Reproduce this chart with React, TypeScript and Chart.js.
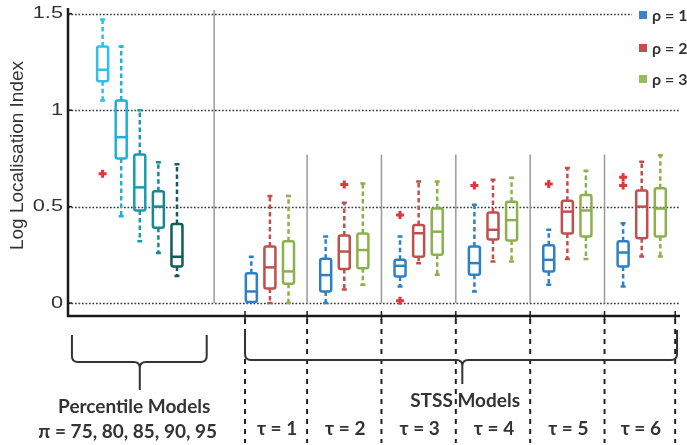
import React, { useEffect, useRef } from 'react';
import { Chart, registerables } from 'chart.js';

Chart.register(...registerables);

// ---------- DATA ----------
// Each box: [lowerWhisker, q1, median, q3, upperWhisker]
const percentileValues = ['75', '80', '85', '90', '95'];
const percentileBoxes: number[][] = [
  [1.05, 1.15, 1.21, 1.33, 1.47],
  [0.45, 0.75, 0.86, 1.05, 1.33],
  [0.32, 0.48, 0.6, 0.77, 1.0],
  [0.26, 0.39, 0.5, 0.58, 0.73],
  [0.14, 0.19, 0.24, 0.41, 0.72],
];
const percentileOutliers: number[][] = [[0.67], [], [], [], []];

const tauLabels = ['τ = 1', 'τ = 2', 'τ = 3', 'τ = 4', 'τ = 5', 'τ = 6'];
const rhoLabels = ['ρ = 1', 'ρ = 2', 'ρ = 3'];

const rho1Boxes: number[][] = [
  [0, 0.005, 0.06, 0.155, 0.24],
  [0, 0.06, 0.145, 0.23, 0.345],
  [0.086, 0.138, 0.193, 0.225, 0.345],
  [0.06, 0.147, 0.207, 0.293, 0.51],
  [0.095, 0.164, 0.224, 0.3, 0.38],
  [0.086, 0.19, 0.262, 0.32, 0.414],
];
const rho2Boxes: number[][] = [
  [0, 0.075, 0.185, 0.293, 0.555],
  [0.07, 0.176, 0.267, 0.35, 0.52],
  [0.207, 0.24, 0.362, 0.405, 0.63],
  [0.215, 0.33, 0.38, 0.47, 0.64],
  [0.228, 0.36, 0.474, 0.53, 0.7],
  [0.241, 0.336, 0.5, 0.583, 0.733],
];
const rho3Boxes: number[][] = [
  [0, 0.1, 0.164, 0.32, 0.555],
  [0.095, 0.18, 0.275, 0.36, 0.62],
  [0.147, 0.25, 0.37, 0.49, 0.63],
  [0.215, 0.324, 0.43, 0.525, 0.65],
  [0.228, 0.345, 0.48, 0.56, 0.686],
  [0.241, 0.345, 0.49, 0.595, 0.767],
];
const rho1Outliers: number[][] = [[], [], [0.457, 0.012], [0.61], [0.617], [0.652, 0.609]];
const rho2Outliers: number[][] = [[], [0.615], [], [], [], []];
const rho3Outliers: number[][] = [[], [], [], [], [], []];

const yTicks = [0, 0.5, 1, 1.5];
const yTickLabels = ['0', '0.5', '1', '1.5'];

// ---------- LAYOUT / STYLE ----------
const W = 687;
const H = 445;
const X_MIN = -1.862;
const X_MAX = 31.06;
const Y_MIN = -0.062;
const Y_MAX = 1.53;
const pctSlot = (i: number) => i;
const stssSlot = (t: number, r: number) => 8 + 4 * t + r;
const mainSeparator = 6;
const groupSeparators = [11, 15, 19, 23, 27];
const tauBounds = [7.66, 11, 15, 19, 23, 27, 30.8];

const pctColors = ['#33bfe5', '#22afd3', '#1b9bb3', '#178892', '#105c5f'];
const rhoColors = ['#2f80c3', '#c0504d', '#8db04e'];
const legendColors = ['#3386c9', '#c0504d', '#9bbb59'];
const outlierColor = '#e2363c';
const textColor = '#333333';
const FONT = 'Lato, "Open Sans", "Liberation Sans", sans-serif';

const rhoBoxes = [rho1Boxes, rho2Boxes, rho3Boxes];
const rhoOutliers = [rho1Outliers, rho2Outliers, rho3Outliers];

function drawBox(ctx: CanvasRenderingContext2D, xs: any, ys: any, slot: number, b: number[], color: string) {
  const x = xs.getPixelForValue(slot);
  const [lo, q1, med, q3, hi] = b.map((v) => ys.getPixelForValue(v));
  const hw = 5.5;
  ctx.save();
  ctx.strokeStyle = color;
  ctx.lineWidth = 2.5;
  ctx.lineCap = 'butt';
  // whiskers
  ctx.setLineDash([4.5, 3]);
  if (hi < q3 - 1) {
    ctx.beginPath();
    ctx.moveTo(x, q3);
    ctx.lineTo(x, hi);
    ctx.stroke();
  }
  if (lo > q1 + 1) {
    ctx.beginPath();
    ctx.moveTo(x, q1);
    ctx.lineTo(x, lo);
    ctx.stroke();
  }
  ctx.setLineDash([]);
  ctx.beginPath();
  if (hi < q3 - 1) {
    ctx.moveTo(x - 2.5, hi);
    ctx.lineTo(x + 2.5, hi);
  }
  if (lo > q1 + 1) {
    ctx.moveTo(x - 2.5, lo);
    ctx.lineTo(x + 2.5, lo);
  }
  ctx.stroke();
  // box
  ctx.lineJoin = 'round';
  ctx.beginPath();
  const top = q3;
  const h = Math.max(q1 - q3, 1);
  if ((ctx as any).roundRect) {
    (ctx as any).roundRect(x - hw, top, hw * 2, h, 2);
  } else {
    ctx.rect(x - hw, top, hw * 2, h);
  }
  ctx.stroke();
  // median
  ctx.beginPath();
  ctx.moveTo(x - hw, med);
  ctx.lineTo(x + hw, med);
  ctx.stroke();
  ctx.restore();
}

function drawBrace(ctx: CanvasRenderingContext2D, xL: number, xC: number, xR: number, yTop: number, yH: number, yTip: number) {
  const r = 6;
  ctx.beginPath();
  ctx.moveTo(xL, yTop);
  ctx.lineTo(xL, yH - r);
  ctx.quadraticCurveTo(xL, yH, xL + r, yH);
  ctx.lineTo(xC - r, yH);
  ctx.quadraticCurveTo(xC, yH, xC, yH + r);
  ctx.lineTo(xC, yTip);
  ctx.moveTo(xC, yH + r);
  ctx.quadraticCurveTo(xC, yH, xC + r, yH);
  ctx.lineTo(xR - r, yH);
  ctx.quadraticCurveTo(xR, yH, xR, yH - r);
  ctx.lineTo(xR, yTop);
  ctx.stroke();
}

const boxPlotPlugin = {
  id: 'boxPlotPlugin',
  beforeDatasetsDraw(chart: any) {
    const { ctx, chartArea } = chart;
    const xs = chart.scales.x;
    const ys = chart.scales.y;
    ctx.save();
    // dotted grid lines
    ctx.strokeStyle = '#3a3a3a';
    ctx.lineWidth = 1.7;
    ctx.setLineDash([1.7, 1.8]);
    yTicks.forEach((v) => {
      const y = Math.round(ys.getPixelForValue(v)) + 0.5;
      ctx.beginPath();
      ctx.moveTo(chartArea.left, y);
      ctx.lineTo(chartArea.right, y);
      ctx.stroke();
    });
    ctx.setLineDash([]);
    // separators
    ctx.strokeStyle = '#9a9a9a';
    ctx.lineWidth = 1.5;
    const y0 = ys.getPixelForValue(0);
    let x = xs.getPixelForValue(mainSeparator);
    ctx.beginPath();
    ctx.moveTo(x, chartArea.top + 2);
    ctx.lineTo(x, y0);
    ctx.stroke();
    const yS = ys.getPixelForValue(0.77);
    groupSeparators.forEach((s) => {
      x = xs.getPixelForValue(s);
      ctx.beginPath();
      ctx.moveTo(x, yS);
      ctx.lineTo(x, y0);
      ctx.stroke();
    });
    ctx.restore();
  },
  afterDatasetsDraw(chart: any) {
    const { ctx, chartArea } = chart;
    const xs = chart.scales.x;
    const ys = chart.scales.y;
    ctx.save();

    // boxes
    percentileBoxes.forEach((b, i) => drawBox(ctx, xs, ys, pctSlot(i), b, pctColors[i]));
    rhoBoxes.forEach((series, r) =>
      series.forEach((b, t) => drawBox(ctx, xs, ys, stssSlot(t, r), b, rhoColors[r]))
    );

    // axes
    ctx.strokeStyle = '#1a1a1a';
    ctx.lineWidth = 2.5;
    ctx.beginPath();
    ctx.moveTo(chartArea.left, chartArea.top);
    ctx.lineTo(chartArea.left, chartArea.bottom + 1);
    ctx.lineTo(chartArea.right, chartArea.bottom + 1);
    ctx.stroke();
    ctx.lineWidth = 1.5;
    yTicks.forEach((v) => {
      const y = ys.getPixelForValue(v);
      ctx.beginPath();
      ctx.moveTo(chartArea.left, y);
      ctx.lineTo(chartArea.left + 4, y);
      ctx.stroke();
    });
    tauBounds.forEach((s) => {
      const x = xs.getPixelForValue(s);
      ctx.beginPath();
      ctx.moveTo(x, chartArea.bottom - 4);
      ctx.lineTo(x, chartArea.bottom + 5);
      ctx.stroke();
    });

    // y tick labels (horizontally widened like the reference)
    ctx.fillStyle = textColor;
    ctx.font = '17px "Liberation Sans", Arial, sans-serif';
    ctx.textAlign = 'right';
    ctx.textBaseline = 'middle';
    yTicks.forEach((v, i) => {
      ctx.save();
      ctx.translate(chartArea.left - 5, ys.getPixelForValue(v));
      ctx.scale(1.28, 1);
      ctx.fillText(yTickLabels[i], 0, 0);
      ctx.restore();
    });

    // y title
    ctx.save();
    ctx.translate(18, (chartArea.top + ys.getPixelForValue(0)) / 2);
    ctx.rotate(-Math.PI / 2);
    ctx.textAlign = 'center';
    ctx.textBaseline = 'middle';
    ctx.font = '19px "Liberation Sans", Arial, sans-serif';
    ctx.fillText('Log Localisation Index', 0, 0);
    ctx.restore();

    // legend
    ctx.fillStyle = '#ffffff';
    ctx.fillRect(632, 0, W - 632, 95);
    const legendY = [15, 48, 79];
    rhoLabels.forEach((lab, i) => {
      ctx.fillStyle = legendColors[i];
      ctx.fillRect(639, legendY[i] - 4, 8, 8);
      ctx.fillStyle = textColor;
      ctx.font = `bold 16px ${FONT}`;
      ctx.textAlign = 'left';
      ctx.textBaseline = 'middle';
      ctx.fillText(lab, 652, legendY[i] + 1);
    });

    // dashed vertical lines below the axis
    ctx.strokeStyle = '#222222';
    ctx.lineWidth = 2;
    ctx.setLineDash([5, 5]);
    tauBounds.forEach((s) => {
      const x = xs.getPixelForValue(s);
      ctx.beginPath();
      ctx.moveTo(x, chartArea.bottom + 4);
      ctx.lineTo(x, H - 2);
      ctx.stroke();
    });
    ctx.setLineDash([]);

    // braces
    ctx.strokeStyle = '#333333';
    ctx.lineWidth = 2;
    drawBrace(
      ctx,
      xs.getPixelForValue(-1.65),
      xs.getPixelForValue(2),
      xs.getPixelForValue(5.6),
      335,
      362,
      390
    );
    drawBrace(
      ctx,
      xs.getPixelForValue(tauBounds[0]),
      xs.getPixelForValue(19.35),
      xs.getPixelForValue(30.9),
      330,
      360,
      384
    );

    // texts
    ctx.fillStyle = textColor;
    ctx.textAlign = 'center';
    ctx.textBaseline = 'middle';
    ctx.font = `bold 19px ${FONT}`;
    ctx.fillText('Percentile Models', xs.getPixelForValue(1.7), 407);
    ctx.fillText('π = ' + percentileValues.join(', '), xs.getPixelForValue(1.35), 432);
    ctx.fillText('STSS Models', xs.getPixelForValue(19.5), 401);
    ctx.font = `bold 19px ${FONT}`;
    tauLabels.forEach((lab, t) => {
      const cx = xs.getPixelForValue((tauBounds[t] + tauBounds[t + 1]) / 2);
      ctx.fillText(lab, cx + 1, 429);
    });

    ctx.restore();
  },
};

export default function App() {
  const ref = useRef<HTMLCanvasElement | null>(null);
  useEffect(() => {
    if (!ref.current) return;
    const outlierPoints: { x: number; y: number }[] = [];
    percentileOutliers.forEach((arr, i) => arr.forEach((v) => outlierPoints.push({ x: pctSlot(i), y: v })));
    rhoOutliers.forEach((series, r) =>
      series.forEach((arr, t) => arr.forEach((v) => outlierPoints.push({ x: stssSlot(t, r), y: v })))
    );
    const chart = new Chart(ref.current, {
      type: 'scatter',
      data: {
        datasets: [
          {
            label: 'Outliers',
            data: outlierPoints,
            pointStyle: 'cross',
            pointRadius: 4,
            borderColor: outlierColor,
            backgroundColor: outlierColor,
            borderWidth: 3,
          } as any,
        ],
      },
      options: {
        responsive: false,
        animation: false,
        layout: { padding: { left: 68, top: 8, right: 0, bottom: H - 315 } },
        scales: {
          x: { type: 'linear', min: X_MIN, max: X_MAX, display: false },
          y: { type: 'linear', min: Y_MIN, max: Y_MAX, display: false },
        },
        plugins: { legend: { display: false }, tooltip: { enabled: false } },
      },
      plugins: [boxPlotPlugin],
    });
    return () => chart.destroy();
  }, []);
  return (
    <div style={{ position: 'fixed', left: 0, top: 0, width: W, height: H, background: '#fff' }}>
      <canvas ref={ref} width={W} height={H} style={{ display: 'block', width: W, height: H }} />
    </div>
  );
}
